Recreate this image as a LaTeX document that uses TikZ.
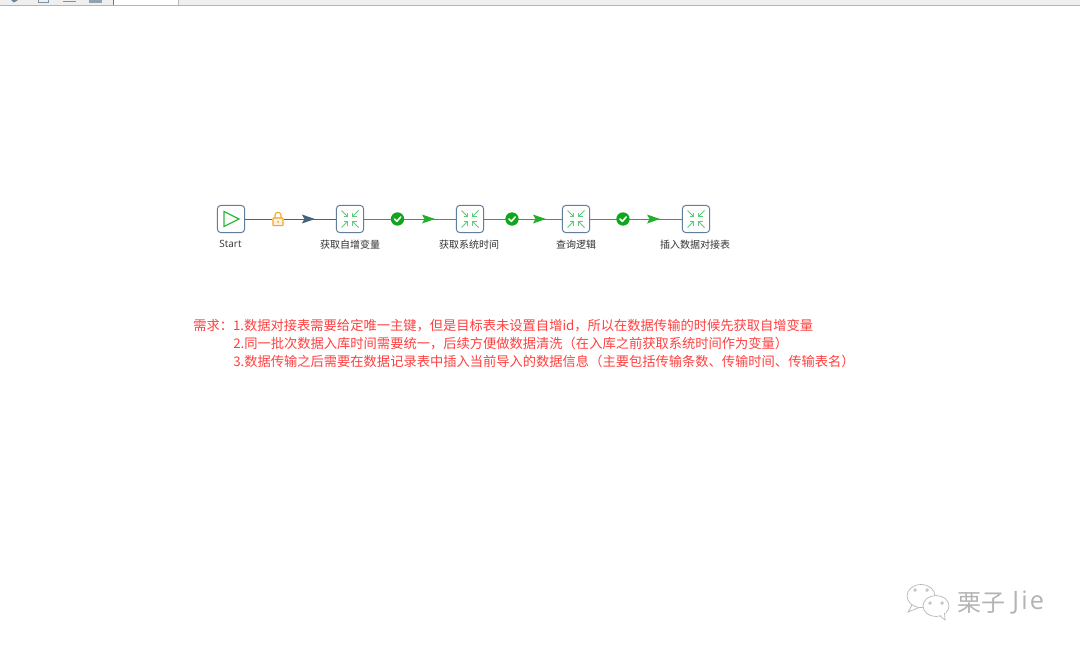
\documentclass[tikz,border=0pt]{standalone}
\usepackage{fontspec}
\setmainfont{Noto Sans CJK SC}
\newfontfamily\latinfont{Open Sans}
\newfontfamily\wmfont[LetterSpace=9]{Open Sans}
\usetikzlibrary{decorations.markings,calc}
\definecolor{boxedge}{HTML}{5F7F9C}
\definecolor{hopblue}{HTML}{44637F}
\definecolor{hopgreen}{HTML}{22B02A}
\definecolor{checkgreen}{HTML}{0FA51C}
\definecolor{iconstart}{HTML}{2DBB3C}
\definecolor{iconjob}{HTML}{5CCB7A}
\definecolor{lockorange}{HTML}{F5A623}
\definecolor{redtext}{HTML}{FF4040}
\definecolor{barfill}{HTML}{EFEFEF}
\definecolor{barline}{HTML}{B5B5B5}
\definecolor{marktext}{HTML}{B4B4B4}
\tikzset{
  x=0.75pt,y=-0.75pt,
  jobbox/.style={draw=boxedge,line width=0.75pt,rounded corners=2.6pt,fill=white,minimum size=20.4pt,inner sep=0pt},
  steplabel/.style={font=\fontsize{7.5pt}{9pt}\selectfont,text=black!80,inner sep=0pt},
  reqline/.style={font=\fontsize{9.95pt}{12pt}\selectfont,text=redtext,inner sep=0pt,anchor=west},
  hopline/.style={line width=0.55pt},
  arrowat/.style 2 args={postaction={decorate},decoration={markings,mark=at position #1 with {\fill[#2] (-6,-4.5) -- (7,0) -- (-6,4.5) -- (-3.5,0) -- cycle;}}},
  checkmark/.style={circle,fill=checkgreen,minimum size=10pt,inner sep=0pt},
  lockmark/.style={minimum size=9pt,inner sep=0pt},
}
\newcommand{\jobicon}[1]{%
  \foreach \sx/\sy in {-1/-1,1/-1,-1/1,1/1}{
    \draw[iconjob,line width=0.65pt] ($(#1)+(\sx*8.5,\sy*8.5)$) -- ($(#1)+(\sx*2.5,\sy*2.5)$);
    \draw[iconjob,line width=0.65pt] ($(#1)+(\sx*6.5,\sy*2.5)$) -- ($(#1)+(\sx*2.5,\sy*2.5)$) -- ($(#1)+(\sx*2.5,\sy*6.5)$);
  }}
\begin{document}
\begin{tikzpicture}
\useasboundingbox (0,0) rectangle (1080,650);
\fill[white] (0,0) rectangle (1080,650);
% top toolbar strip
\fill[barfill] (0,0) rectangle (1080,5);
\fill[white] (113,0) rectangle (178,5);
\draw[barline,line width=0.8pt] (0,5.5) -- (1080,5.5);
\draw[black!55,line width=0.6pt] (113,0) -- (113,5);
\draw[barline,line width=0.6pt] (178,0) -- (178,5);
\fill[hopblue!80] (11,0) -- (18,0) -- (14,2.5) -- cycle;
\draw[hopblue!70,line width=0.6pt] (38,0) -- (38,2) -- (48,2) -- (48,0);
\draw[hopblue!70,line width=0.6pt] (63,1.5) -- (76,1.5);
\fill[hopblue!60] (89,0) rectangle (102,2.5);

% nodes
\node[jobbox] (start) at (231,219) {};
\node[jobbox] (j1) at (350,219) {};
\node[jobbox] (j2) at (470,219) {};
\node[jobbox] (j3) at (576,219) {};
\node[jobbox] (j4) at (696,219) {};
\draw[iconstart,line width=0.9pt,line join=miter] ($(start)+(-7,-7.5)$) -- ($(start)+(8,0)$) -- ($(start)+(-7,7.5)$) -- cycle;
\jobicon{j1}\jobicon{j2}\jobicon{j3}\jobicon{j4}

% labels
\node[steplabel] (l0) at (230.5,244.3) {\latinfont Start};
\node[steplabel] (l1) at (350,244.3) {获取自增变量};
\node[steplabel] (l2) at (469,244.3) {获取系统时间};
\node[steplabel] (l3) at (576,244.3) {查询逻辑};
\node[steplabel] (l4) at (695,244.3) {插入数据对接表};

% hops
\draw[hopline,hopblue,arrowat={0.692}{hopblue}] (start.east) -- (j1.west);
\draw[hopline,hopgreen,arrowat={0.696}{hopgreen}] (j1.east) -- (j2.west);
\draw[hopline,hopgreen,arrowat={0.705}{hopgreen}] (j2.east) -- (j3.west);
\draw[hopline,hopgreen,arrowat={0.685}{hopgreen}] (j3.east) -- (j4.west);

% hop marks
\node[lockmark] (lock) at (278,219) {};
\fill[white] (272,211) rectangle (284,227);
\draw[lockorange,line width=0.8pt] ($(lock)+(-3,-1)$) -- ($(lock)+(-3,-3.7)$) arc[start angle=180,end angle=360,radius=3] -- ($(lock)+(3,-1)$);
\draw[lockorange,line width=0.8pt,fill=lockorange!15,rounded corners=0.5pt] ($(lock)+(-5,-1)$) rectangle ($(lock)+(5,6.7)$);
\fill[lockorange] ($(lock)+(0,2.8)$) circle[radius=1];
\foreach \n/\px in {c1/397.5,c2/512,c3/623}{
  \node[checkmark] (\n) at (\px,219) {};
  \draw[white,line width=1.2pt,line cap=round,line join=round] ($(\n)+(-3,0)$) -- ($(\n)+(-0.7,2.4)$) -- ($(\n)+(3.2,-2)$);
}

% requirement text
\node[reqline] (r1) at (193,325.6) {需求：1.数据对接表需要给定唯一主键，但是目标表未设置自增id，所以在数据传输的时候先获取自增变量};
\node[reqline] (r2) at (233,343.6) {2.同一批次数据入库时间需要统一，后续方便做数据清洗（在入库之前获取系统时间作为变量）};
\node[reqline] (r3) at (233,361.6) {3.数据传输之后需要在数据记录表中插入当前导入的数据信息（主要包括传输条数、传输时间、传输表名）};

% watermark
\draw[marktext,line width=0.5pt,fill=white] (921,596) circle[x radius=14,y radius=11.5];
\draw[marktext,line width=0.5pt] (912,605) -- (908,612) -- (919,607.5);
\draw[marktext,line width=0.5pt,fill=white] (936,606) circle[x radius=13,y radius=10.5];
\fill[white] (939,613) -- (944,619) -- (946,611) -- cycle;
\draw[marktext,line width=0.5pt] (940,616) -- (945,620) -- (944.5,613);
\foreach \px/\py in {915/590,927/590,930/603,942/603}{
  \draw[marktext,line width=0.5pt] (\px,\py) circle[radius=1.3];
}
\node[font=\fontsize{18pt}{22pt}\selectfont,text=marktext,inner sep=0pt,anchor=west] (wm) at (957,603) {栗子};
\node[font=\fontsize{19pt}{22pt}\selectfont,text=marktext,inner sep=0pt,anchor=west] (wmb) at (1012,603) {\wmfont Jie};
\end{tikzpicture}
\end{document}
